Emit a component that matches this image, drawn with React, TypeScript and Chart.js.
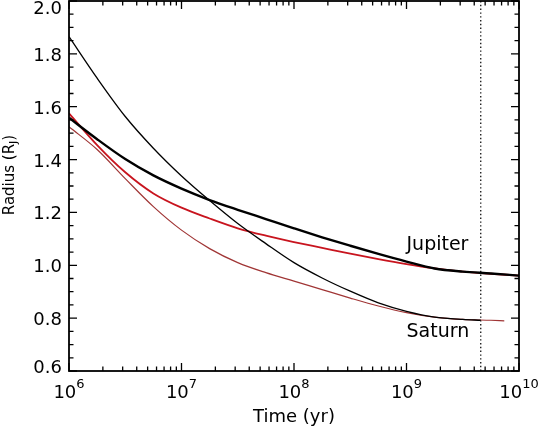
import { useEffect, useRef } from 'react';
import { Chart, registerables } from 'chart.js';

Chart.register(...registerables);

// ---- data (time in years, radius in Jupiter radii) ----
const jupiterEvoTime = [1e6, 1.778e6, 3.162e6, 5.623e6, 1e7, 1.778e7, 3.162e7, 5.623e7, 1e8, 1.778e8, 3.162e8, 5.623e8, 1e9, 1.778e9, 3.162e9, 5.623e9, 1e10];
const jupiterEvoRadius = [1.558, 1.477, 1.402, 1.34, 1.29, 1.247, 1.21, 1.175, 1.14, 1.106, 1.074, 1.043, 1.014, 0.988, 0.976, 0.969, 0.961];

const jupiterModelTime = [1e6, 1.778e6, 3.162e6, 5.623e6, 1e7, 1.778e7, 3.162e7, 5.623e7, 1e8, 1.778e8, 3.162e8, 5.623e8, 1e9, 1.778e9, 3.162e9, 5.623e9, 1e10];
const jupiterModelRadius = [1.575, 1.455, 1.352, 1.272, 1.218, 1.177, 1.14, 1.112, 1.088, 1.066, 1.044, 1.023, 1.004, 0.988, 0.976, 0.968, 0.961];

const saturnEvoTime = [1e6, 1.778e6, 3.162e6, 5.623e6, 1e7, 1.778e7, 3.162e7, 5.623e7, 1e8, 1.778e8, 3.162e8, 5.623e8, 1e9, 1.778e9, 3.162e9, 4.57e9];
const saturnEvoRadius = [1.865, 1.708, 1.563, 1.443, 1.338, 1.245, 1.158, 1.082, 1.01, 0.952, 0.902, 0.858, 0.826, 0.804, 0.795, 0.792];

const saturnModelTime = [1e6, 1.778e6, 3.162e6, 5.623e6, 1e7, 1.778e7, 3.162e7, 5.623e7, 1e8, 1.778e8, 3.162e8, 5.623e8, 1e9, 1.778e9, 3.162e9, 5.623e9, 7.4e9];
const saturnModelRadius = [1.524, 1.438, 1.328, 1.222, 1.133, 1.063, 1.01, 0.972, 0.94, 0.908, 0.876, 0.846, 0.821, 0.804, 0.795, 0.792, 0.79];

const solarSystemAge = 4.57e9;

const xMajorTicks = [1e6, 1e7, 1e8, 1e9, 1e10];
const xTickExponents = ['6', '7', '8', '9', '10'];
const xMinorFactors = [2, 3, 4, 5, 6, 7, 8, 9];
const yMajorTicks = [0.6, 0.8, 1.0, 1.2, 1.4, 1.6, 1.8, 2.0];
const yTickLabels = ['0.6', '0.8', '1.0', '1.2', '1.4', '1.6', '1.8', '2.0'];
const yMinorStep = 0.05;

const planetLabels = [
  { text: 'Jupiter', t: 1.0e9, r: 1.058 },
  { text: 'Saturn', t: 1.0e9, r: 0.729 },
];

const FONT = '"DejaVu Sans", sans-serif';

const pts = (xs: number[], ys: number[]) => xs.map((x, i) => ({ x, y: ys[i] }));

const idlAxes = {
  id: 'idlAxes',
  beforeDatasetsDraw(chart: any) {
    const { ctx, chartArea: a, scales } = chart;
    const xd = scales.x.getPixelForValue(solarSystemAge);
    ctx.save();
    ctx.setLineDash([1.4, 2.4]);
    ctx.strokeStyle = '#111';
    ctx.lineWidth = 1.3;
    ctx.beginPath();
    ctx.moveTo(xd, a.top);
    ctx.lineTo(xd, a.bottom);
    ctx.stroke();
    ctx.restore();
  },
  afterDatasetsDraw(chart: any) {
    const { ctx, chartArea: a, scales } = chart;
    const xs = scales.x;
    const ys = scales.y;
    ctx.save();
    ctx.strokeStyle = '#000';
    ctx.fillStyle = '#000';
    // frame
    ctx.lineWidth = 1.8;
    ctx.strokeRect(a.left, a.top, a.right - a.left, a.bottom - a.top);
    // ticks
    ctx.lineWidth = 1.3;
    const MAJ = 8;
    const MIN = 4.5;
    ctx.beginPath();
    xMajorTicks.forEach((v, i) => {
      const px = xs.getPixelForValue(v);
      ctx.moveTo(px, a.bottom); ctx.lineTo(px, a.bottom - MAJ);
      ctx.moveTo(px, a.top); ctx.lineTo(px, a.top + MAJ);
      if (i < xMajorTicks.length - 1) {
        xMinorFactors.forEach((f) => {
          const mx = xs.getPixelForValue(v * f);
          ctx.moveTo(mx, a.bottom); ctx.lineTo(mx, a.bottom - MIN);
          ctx.moveTo(mx, a.top); ctx.lineTo(mx, a.top + MIN);
        });
      }
    });
    yMajorTicks.forEach((v) => {
      const py = ys.getPixelForValue(v);
      ctx.moveTo(a.left, py); ctx.lineTo(a.left + MAJ, py);
      ctx.moveTo(a.right, py); ctx.lineTo(a.right - MAJ, py);
    });
    const y0 = yMajorTicks[0];
    const y1 = yMajorTicks[yMajorTicks.length - 1];
    const n = Math.round((y1 - y0) / yMinorStep);
    for (let k = 1; k < n; k++) {
      if (k % 4 === 0) continue;
      const py = ys.getPixelForValue(y0 + k * yMinorStep);
      ctx.moveTo(a.left, py); ctx.lineTo(a.left + MIN, py);
      ctx.moveTo(a.right, py); ctx.lineTo(a.right - MIN, py);
    }
    ctx.stroke();

    // y tick labels
    ctx.font = `18px ${FONT}`;
    ctx.textAlign = 'right';
    ctx.textBaseline = 'alphabetic';
    yMajorTicks.forEach((v, i) => {
      const py = ys.getPixelForValue(v);
      const base = Math.min(Math.max(py + 7, 14), a.bottom + 2);
      ctx.fillText(yTickLabels[i], a.left - 7, base);
    });

    // x tick labels (10^n)
    ctx.textAlign = 'left';
    xMajorTicks.forEach((v, i) => {
      const px = xs.getPixelForValue(v);
      ctx.font = `18px ${FONT}`;
      const wb = ctx.measureText('10').width;
      ctx.font = `13px ${FONT}`;
      const we = ctx.measureText(xTickExponents[i]).width;
      const start = px - (wb + we) / 2;
      ctx.font = `18px ${FONT}`;
      ctx.fillText('10', start, a.bottom + 27);
      ctx.font = `13px ${FONT}`;
      ctx.fillText(xTickExponents[i], start + wb, a.bottom + 17);
    });

    // x title
    ctx.font = `18px ${FONT}`;
    ctx.textAlign = 'center';
    ctx.fillText('Time (yr)', (a.left + a.right) / 2, a.bottom + 51);

    // y title with subscript J
    ctx.save();
    ctx.translate(13.5, (a.top + a.bottom) / 2 - 11);
    ctx.rotate(-Math.PI / 2);
    ctx.textAlign = 'left';
    ctx.font = `15px ${FONT}`;
    const p1 = 'Radius (R';
    const w1 = ctx.measureText(p1).width;
    const w3 = ctx.measureText(')').width;
    ctx.font = `11px ${FONT}`;
    const w2 = ctx.measureText('J').width;
    const s = -(w1 + w2 + w3) / 2;
    ctx.font = `15px ${FONT}`;
    ctx.fillText(p1, s, 0);
    ctx.font = `11px ${FONT}`;
    ctx.fillText('J', s + w1, 3);
    ctx.font = `15px ${FONT}`;
    ctx.fillText(')', s + w1 + w2, 0);
    ctx.restore();

    // planet labels
    ctx.font = `19px ${FONT}`;
    ctx.textAlign = 'left';
    planetLabels.forEach((l) => {
      ctx.fillText(l.text, xs.getPixelForValue(l.t), ys.getPixelForValue(l.r));
    });
    ctx.restore();
  },
};

export default function App() {
  const ref = useRef<HTMLCanvasElement | null>(null);
  useEffect(() => {
    if (!ref.current) return;
    const common = { pointRadius: 0, fill: false, cubicInterpolationMode: 'monotone' as const };
    const chart = new Chart(ref.current, {
      type: 'line',
      data: {
        datasets: [
          { ...common, label: 'Jupiter evolution', data: pts(jupiterEvoTime, jupiterEvoRadius), borderColor: '#000', borderWidth: 2.4 },
          { ...common, label: 'Saturn evolution', data: pts(saturnEvoTime, saturnEvoRadius), borderColor: '#000', borderWidth: 1.3 },
          { ...common, label: 'Jupiter model', data: pts(jupiterModelTime, jupiterModelRadius), borderColor: '#c8141e', borderWidth: 1.8 },
          { ...common, label: 'Saturn model', data: pts(saturnModelTime, saturnModelRadius), borderColor: '#a03535', borderWidth: 1.2 },
        ],
      },
      options: {
        animation: false,
        responsive: false,
        maintainAspectRatio: false,
        layout: { padding: { left: 69, right: 21, top: 1, bottom: 57 } },
        scales: {
          x: { type: 'logarithmic', min: 1e6, max: 1e10, display: false },
          y: { type: 'linear', min: 0.6, max: 2.0, display: false },
        },
        plugins: { legend: { display: false }, tooltip: { enabled: false } },
      },
      plugins: [idlAxes],
    });
    return () => chart.destroy();
  }, []);
  return (
    <div style={{ position: 'fixed', left: 0, top: 0, width: 540, height: 428, background: '#fff' }}>
      <canvas ref={ref} width={540} height={428} />
    </div>
  );
}
